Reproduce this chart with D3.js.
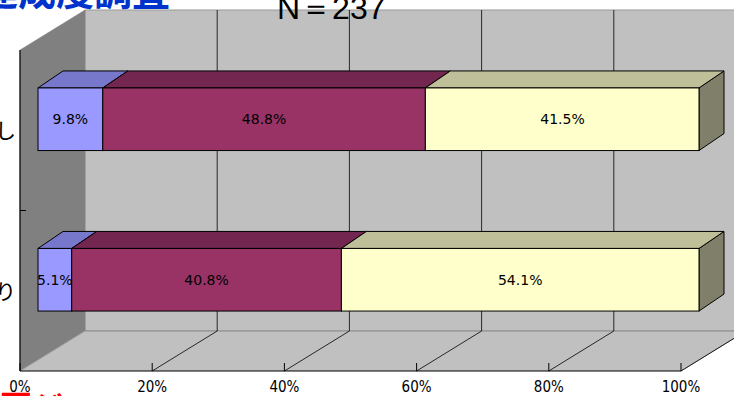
<!DOCTYPE html>
<html><head><meta charset="utf-8">
<script src="https://cdn.jsdelivr.net/npm/d3@7"></script>
<style>body{margin:0;background:#fff;overflow:hidden}svg{display:block}</style>
</head><body><svg id="c" width="734" height="396"></svg>
<script>
const categories = ["なし", "あり"];
const seriesNames = ["満足", "やや満足", "不満"];
const seriesValues = [
  [9.8, 5.1],
  [48.8, 40.8],
  [41.5, 54.1]
];
const tickValues = [0, 20, 40, 60, 80, 100];
const tickLabels = ["0%", "20%", "40%", "60%", "80%", "100%"];
const faceColors = ["#9999FF", "#993366", "#FFFFCC"];
const topColors = ["#7777CC", "#732650", "#BFBF99"];
const sideColors = ["#6A6AB0", "#5A1E40", "#80806A"];

const svg = d3.select("#c");
// wall geometry (front plane)
const fx0 = 20, fx1 = 681, fyT = 50, fyB = 371;
const DX = 65, DY = -40;
// bar geometry
const bOffX = 18, bOffY = -11, bDX = 25, bDY = -17;

const xAxis = d3.scaleLinear().domain([0, 100]).range([fx0, fx1]);
const xBar = d3.scaleLinear().domain([0, 100]).range([fx0 + bOffX, fx1 + bOffX]);
const yBand = d3.scaleBand().domain(categories).range([fyT + bOffY, fyB + bOffY]).paddingInner(0.61).paddingOuter(0.305);
const yCat = d3.scaleBand().domain(categories).range([fyT, fyB]);

const poly = pts => pts.map(p => p.join(",")).join(" ");

// Title (cropped)
svg.append("text").attr("x", -20).attr("y", 5).attr("font-family", "Noto Sans CJK JP")
  .attr("font-weight", "bold").attr("font-size", 38).attr("fill", "#0033CC").text("達成度調査");

// back wall
svg.append("polygon").attr("points", poly([[fx0+DX, fyT+DY],[fx1+DX, fyT+DY],[fx1+DX, fyB+DY],[fx0+DX, fyB+DY]]))
  .attr("fill", "#C0C0C0").attr("stroke", "#999").attr("stroke-width", 1);
// left wall
svg.append("polygon").attr("points", poly([[fx0, fyT],[fx0+DX, fyT+DY],[fx0+DX, fyB+DY],[fx0, fyB]]))
  .attr("fill", "#808080").attr("stroke", "#808080").attr("stroke-width", 0.5);
// floor
svg.append("polygon").attr("points", poly([[fx0, fyB],[fx1, fyB],[fx1+DX, fyB+DY],[fx0+DX, fyB+DY]]))
  .attr("fill", "#C0C0C0");
svg.append("line").attr("x1", fx0+DX).attr("x2", fx1+DX).attr("y1", fyB+DY).attr("y2", fyB+DY).attr("stroke", "#8a8a8a");
svg.append("line").attr("x1", fx1).attr("y1", fyB).attr("x2", fx1+DX).attr("y2", fyB+DY).attr("stroke", "#8a8a8a");
svg.append("line").attr("x1", fx0).attr("y1", fyB).attr("x2", fx0+DX).attr("y2", fyB+DY).attr("stroke", "#9a9a9a");

// gridlines back wall + floor
tickValues.slice(1).forEach(v => {
  const x = xAxis(v);
  svg.append("line").attr("x1", x+DX).attr("x2", x+DX).attr("y1", fyT+DY).attr("y2", fyB+DY).attr("stroke", "#000").attr("stroke-width", 0.8);
  svg.append("line").attr("x1", x).attr("y1", fyB).attr("x2", x+DX).attr("y2", fyB+DY).attr("stroke", "#000").attr("stroke-width", 0.8);
});

// axes lines
svg.append("line").attr("x1", fx0).attr("x2", fx0).attr("y1", fyT).attr("y2", fyB).attr("stroke", "#000").attr("stroke-width", 1.2);
svg.append("line").attr("x1", fx0).attr("x2", fx1).attr("y1", fyB).attr("y2", fyB).attr("stroke", "#000").attr("stroke-width", 1.2);
tickValues.forEach(v => {
  svg.append("line").attr("x1", xAxis(v)).attr("x2", xAxis(v)).attr("y1", fyB).attr("y2", fyB-8).attr("stroke", "#000").attr("stroke-width", 1);
});
svg.append("line").attr("x1", fx0).attr("x2", fx0+6).attr("y1", (fyT+fyB)/2).attr("y2", (fyT+fyB)/2).attr("stroke", "#000");

// bars
categories.forEach((c, ci) => {
  const y0 = yBand(c), y1 = y0 + yBand.bandwidth();
  let cum = 0;
  seriesValues.forEach((vals, si) => {
    const v = vals[ci];
    const xa = xBar(cum), xb = xBar(Math.min(100, cum + v));
    cum += v;
    const g = svg.append("g");
    g.append("polygon").attr("points", poly([[xb, y0],[xb+bDX, y0+bDY],[xb+bDX, y1+bDY],[xb, y1]]))
      .attr("fill", sideColors[si]).attr("stroke", "#000").attr("stroke-width", 1).attr("stroke-linejoin", "round");
    g.append("polygon").attr("points", poly([[xa, y0],[xa+bDX, y0+bDY],[xb+bDX, y0+bDY],[xb, y0]]))
      .attr("fill", topColors[si]).attr("stroke", "#000").attr("stroke-width", 1).attr("stroke-linejoin", "round");
    g.append("rect").attr("x", xa).attr("y", y0).attr("width", xb - xa).attr("height", y1 - y0)
      .attr("fill", faceColors[si]).attr("stroke", "#000").attr("stroke-width", 1);
  });
  cum = 0;
  seriesValues.forEach((vals, si) => {
    const v = vals[ci];
    const xa = xBar(cum), xb = xBar(cum + v);
    cum += v;
    svg.append("text").attr("x", (xa + xb) / 2).attr("y", (y0 + y1) / 2).attr("dy", "0.35em")
      .attr("text-anchor", "middle").attr("font-family", "DejaVu Sans, sans-serif").attr("font-size", 14)
      .attr("fill", "#000").text(v.toFixed(1) + "%");
  });
});

// category labels (cropped)
categories.forEach(c => {
  svg.append("text").attr("x", 16).attr("y", yCat(c) + yCat.bandwidth() / 2).attr("dy", "0.38em")
    .attr("text-anchor", "end").attr("font-family", "Noto Sans CJK JP").attr("font-size", 21).attr("fill", "#000").text(c);
});

// x tick labels
tickValues.forEach((v, i) => {
  svg.append("text").attr("x", xAxis(v)).attr("y", 392).attr("text-anchor", "middle")
    .attr("font-family", "DejaVu Sans Condensed, DejaVu Sans, sans-serif").attr("font-size", 15).attr("fill", "#000").text(tickLabels[i]);
});

// N label
svg.append("text").attr("x", 277).attr("y", 19).attr("font-family", "Liberation Sans, Arial")
  .attr("font-size", 32).attr("fill", "#000").text("N＝237");

// cropped red note at bottom
svg.append("text").attr("x", 0).attr("y", 419).attr("font-family", "Noto Sans CJK JP")
  .attr("font-weight", "bold").attr("font-size", 32).attr("fill", "#FF0000").text("要ジ");
</script></body></html>
